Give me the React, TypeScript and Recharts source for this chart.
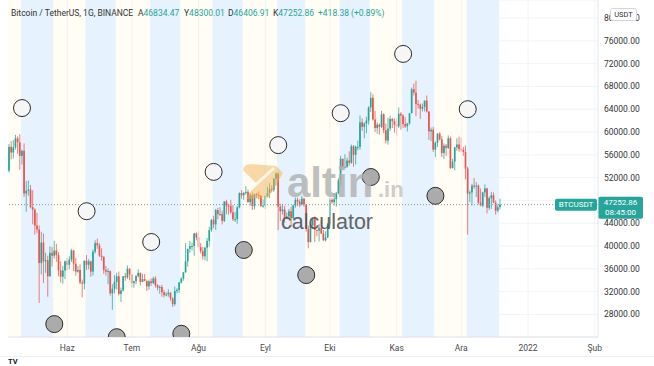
import React from "react";
import {
  ComposedChart,
  Bar,
  XAxis,
  YAxis,
  CartesianGrid,
  ReferenceArea,
  ReferenceDot,
  ReferenceLine,
} from "recharts";

// daily candles BTCUSDT, [open, high, low, close] in thousand USDT, starting 5 May 2021
const may = [
  [53.2, 57.9, 52.9, 57.4], [57.4, 58.4, 55.2, 56.4], [56.4, 58.6, 55.4, 57.3], [57.3, 59.5, 56.9, 58.9],
  [58.9, 59.2, 56.2, 58.2], [58.2, 59.6, 53.4, 55.8], [55.8, 56.9, 54.3, 56.7], [56.7, 58.0, 48.6, 49.2],
  [49.2, 51.4, 46.0, 49.7], [49.7, 51.5, 48.8, 49.9], [49.9, 50.7, 46.6, 46.8], [46.8, 49.8, 43.8, 46.4],
  [46.4, 46.6, 42.0, 43.6], [43.6, 45.8, 42.3, 42.9], [42.9, 43.6, 30.0, 37.0], [37.0, 42.5, 35.0, 40.6],
  [40.6, 42.2, 33.5, 37.3], [37.3, 38.8, 35.3, 37.5], [37.5, 38.3, 31.1, 34.7], [34.7, 39.9, 34.6, 38.8],
  [38.8, 39.8, 36.4, 38.3], [38.3, 40.9, 37.8, 39.2], [39.2, 40.4, 37.2, 38.4], [38.4, 38.9, 34.7, 35.7],
  [35.7, 37.3, 33.6, 34.6], [34.6, 36.5, 33.4, 35.7], [35.7, 37.5, 34.2, 37.3],
];
const jun = [
  [37.3, 37.9, 35.7, 36.7], [36.7, 38.2, 35.9, 37.6], [37.6, 39.5, 37.2, 39.2], [39.2, 39.3, 35.6, 36.9],
  [36.9, 37.9, 34.8, 35.5], [35.5, 36.5, 35.3, 35.8], [35.8, 36.8, 33.3, 33.6], [33.6, 34.1, 31.0, 33.4],
  [33.4, 37.5, 32.4, 37.4], [37.4, 38.4, 35.8, 36.7], [36.7, 37.7, 35.9, 37.3], [37.3, 37.4, 34.6, 35.5],
  [35.5, 39.4, 34.8, 39.0], [39.0, 41.0, 38.7, 40.5], [40.5, 41.3, 39.5, 40.1], [40.1, 40.5, 38.1, 38.3],
  [38.3, 39.6, 37.4, 38.1], [38.1, 38.2, 35.1, 35.8], [35.8, 36.5, 34.8, 35.5], [35.5, 36.1, 33.3, 35.6],
  [35.6, 35.7, 31.3, 31.7], [31.7, 33.3, 28.8, 32.5], [32.5, 34.9, 31.7, 33.7], [33.7, 35.3, 32.4, 34.7],
  [34.7, 35.5, 31.3, 31.6], [31.6, 32.7, 30.2, 32.2], [32.2, 34.7, 32.0, 34.7], [34.7, 35.3, 33.9, 34.5],
  [34.5, 36.6, 34.2, 36.0], [36.0, 36.1, 34.0, 35.0],
];
const jul = [
  [35.0, 35.0, 32.7, 33.5], [33.5, 33.9, 32.7, 33.8], [33.8, 34.9, 33.3, 34.7], [34.7, 35.9, 34.5, 35.3],
  [35.3, 35.3, 33.1, 33.7], [33.7, 35.1, 33.7, 34.2], [34.2, 35.1, 33.8, 33.9], [33.9, 33.9, 32.1, 32.9],
  [32.9, 34.1, 32.3, 33.8], [33.8, 34.3, 33.0, 33.5], [33.5, 34.6, 33.3, 34.3], [34.3, 34.7, 32.7, 33.1],
  [33.1, 33.3, 32.2, 32.7], [32.7, 33.1, 31.6, 32.8], [32.8, 33.2, 31.1, 31.9], [31.9, 32.3, 31.0, 31.4],
  [31.4, 31.9, 31.2, 31.5], [31.5, 32.4, 31.1, 31.8], [31.8, 31.9, 30.4, 30.8], [30.8, 31.0, 29.3, 29.8],
  [29.8, 32.9, 29.5, 32.1], [32.1, 32.6, 31.7, 32.3], [32.3, 33.7, 31.8, 33.6], [33.6, 34.5, 33.4, 34.3],
  [34.3, 35.4, 33.9, 35.4], [35.4, 40.5, 35.3, 37.3], [37.3, 39.5, 36.4, 39.5], [39.5, 40.9, 38.8, 40.0],
  [40.0, 40.6, 39.2, 40.0], [40.0, 42.3, 38.3, 42.2], [42.2, 42.4, 41.0, 41.5],
];
const aug = [
  [41.5, 42.6, 39.4, 39.8], [39.8, 40.5, 38.7, 39.1], [39.1, 39.8, 37.6, 38.2], [38.2, 39.9, 37.5, 39.7],
  [39.7, 41.4, 37.3, 40.9], [40.9, 43.4, 39.9, 42.8], [42.8, 44.7, 42.5, 44.6], [44.6, 45.3, 43.1, 43.8],
  [43.8, 46.5, 42.8, 46.3], [46.3, 46.7, 44.7, 45.6], [45.6, 46.8, 45.3, 45.6], [45.6, 46.2, 43.8, 44.4],
  [44.4, 47.9, 44.2, 47.8], [47.8, 48.1, 45.6, 47.1], [47.1, 47.4, 45.5, 47.0], [47.0, 48.1, 45.7, 45.9],
  [45.9, 47.2, 44.4, 44.7], [44.7, 46.0, 44.2, 44.7], [44.7, 47.0, 43.9, 46.8], [46.8, 49.4, 46.6, 49.3],
  [49.3, 49.8, 48.3, 48.9], [48.9, 49.5, 48.1, 49.3], [49.3, 50.5, 49.0, 49.5], [49.5, 49.9, 47.6, 47.7],
  [47.7, 49.3, 47.1, 48.9], [48.9, 49.4, 46.3, 47.0], [47.0, 49.2, 46.4, 49.1], [49.1, 49.3, 48.4, 48.9],
  [48.9, 49.6, 48.2, 48.8], [48.8, 48.9, 46.9, 47.0], [47.0, 48.2, 46.7, 47.1],
];
const sep = [
  [47.1, 48.9, 46.5, 48.8], [48.8, 50.4, 48.6, 49.3], [49.3, 51.0, 48.4, 50.0], [50.0, 50.6, 49.4, 49.9],
  [49.9, 51.9, 49.5, 51.8], [51.8, 52.9, 50.6, 52.7], [52.7, 52.9, 42.8, 46.9], [46.9, 47.4, 44.4, 46.1],
  [46.1, 47.4, 45.5, 46.4], [46.4, 47.0, 44.1, 44.8], [44.8, 45.9, 44.7, 45.2], [45.2, 46.5, 44.7, 46.1],
  [46.1, 46.9, 43.4, 44.9], [44.9, 47.3, 44.7, 47.1], [47.1, 48.5, 46.7, 48.1], [48.1, 48.5, 47.0, 47.8],
  [47.8, 48.2, 46.8, 47.3], [47.3, 48.8, 47.1, 48.3], [48.3, 48.4, 46.9, 47.3], [47.3, 47.3, 42.5, 43.0],
  [43.0, 43.6, 39.6, 40.7], [40.7, 44.0, 40.6, 43.6], [43.6, 45.0, 43.1, 44.9], [44.9, 45.2, 40.7, 42.8],
  [42.8, 42.9, 41.7, 42.7], [42.7, 43.9, 40.8, 43.2], [43.2, 44.4, 42.1, 42.2], [42.2, 42.8, 40.9, 41.0],
  [41.0, 42.6, 40.8, 41.5], [41.5, 44.1, 41.4, 43.8],
];
const oct = [
  [43.8, 48.5, 43.3, 48.1], [48.1, 48.4, 47.4, 47.7], [47.7, 49.3, 47.1, 48.2], [48.2, 49.5, 46.9, 49.2],
  [49.2, 51.9, 49.1, 51.5], [51.5, 55.8, 50.4, 55.3], [55.3, 55.3, 53.4, 53.8], [53.8, 56.1, 53.6, 53.9],
  [53.9, 55.5, 53.7, 55.0], [55.0, 56.6, 54.1, 54.6], [54.6, 57.8, 54.4, 57.5], [57.5, 57.7, 53.9, 56.0],
  [56.0, 57.6, 54.3, 57.4], [57.4, 58.5, 56.8, 57.4], [57.4, 62.9, 56.9, 61.7], [61.7, 62.4, 60.2, 60.9],
  [60.9, 61.7, 58.9, 61.5], [61.5, 62.7, 59.8, 62.0], [62.0, 64.5, 61.3, 64.3], [64.3, 67.0, 63.5, 66.0],
  [66.0, 66.6, 62.0, 62.2], [62.2, 63.7, 60.0, 60.7], [60.7, 61.7, 59.7, 61.3], [61.3, 61.5, 59.5, 60.9],
  [60.9, 63.7, 60.7, 63.1], [63.1, 63.3, 59.8, 60.3], [60.3, 61.5, 58.0, 58.5], [58.5, 62.5, 57.8, 60.6],
  [60.6, 62.9, 60.2, 62.3], [62.3, 62.4, 60.7, 61.9], [61.9, 62.4, 59.9, 61.3],
];
const nov = [
  [61.3, 62.4, 59.4, 61.0], [61.0, 64.3, 60.7, 63.2], [63.2, 63.5, 60.4, 62.9], [62.9, 63.1, 60.7, 61.4],
  [61.4, 62.6, 60.7, 61.0], [61.0, 61.6, 60.1, 61.5], [61.5, 63.3, 61.3, 63.3], [63.3, 67.8, 63.3, 67.5],
  [67.5, 68.5, 66.4, 66.9], [66.9, 69.0, 62.8, 64.9], [64.9, 65.6, 64.1, 64.8], [64.8, 65.0, 62.3, 64.1],
  [64.1, 65.0, 63.6, 64.4], [64.4, 65.5, 63.6, 65.5], [65.5, 66.4, 63.4, 63.6], [63.6, 63.6, 58.6, 60.1],
  [60.1, 60.8, 58.4, 60.4], [60.4, 60.9, 56.5, 56.9], [56.9, 58.4, 55.6, 58.1], [58.1, 59.8, 57.4, 59.7],
  [59.7, 60.0, 58.5, 58.7], [58.7, 59.3, 55.6, 56.3], [56.3, 58.0, 55.3, 57.6], [57.6, 57.9, 55.8, 57.2],
  [57.2, 59.4, 57.0, 58.9], [58.9, 59.2, 53.5, 53.7], [53.7, 55.3, 53.6, 54.8], [54.8, 57.4, 53.3, 57.3],
  [57.3, 58.9, 56.7, 57.8], [57.8, 59.2, 56.5, 57.0],
];
const dec = [
  [57.0, 59.0, 56.5, 56.9], [56.9, 57.4, 55.8, 56.5], [56.5, 57.6, 51.7, 53.6], [53.6, 53.9, 42.0, 49.2],
  [49.2, 49.7, 47.7, 49.4], [49.4, 50.9, 47.1, 50.6], [50.6, 51.9, 50.0, 50.5], [50.5, 51.2, 48.6, 50.6],
  [50.6, 50.8, 47.3, 47.6], [47.6, 50.1, 47.0, 47.1], [47.1, 49.5, 46.8, 49.4], [49.4, 50.8, 48.6, 50.1],
  [50.1, 50.2, 45.7, 46.7], [46.7, 48.7, 46.3, 48.4], [48.4, 49.5, 46.5, 48.9], [48.9, 49.4, 47.5, 47.6],
  [47.6, 48.0, 45.5, 46.2], [46.2, 47.3, 45.9, 46.8], [46.83447, 48.30001, 46.40691, 47.25286],
];

// bar index of the first day of each month on the time axis (0 = 5 May 2021)
const monthTickIdx = [27, 57, 88, 119, 149, 180, 210, 241, 272];
const monthTickLabels = ["Haz", "Tem", "Ağu", "Eyl", "Eki", "Kas", "Ara", "2022", "Şub"];
const totalDays = 274;

// moon phases indicator: bar index and marker price
const newMoonIdx = [6, 36, 66, 95, 125, 154, 183, 213];
const newMoonPrice = [64.2, 46.1, 40.7, 53.0, 57.7, 63.3, 73.7, 64.0];
const fullMoonIdx = [21, 50, 80, 109, 138, 168, 198, 228];
const fullMoonPrice = [26.3, 24.0, 24.6, 39.3, 34.9, 52.1, 48.8];

const priceTicks = [28, 32, 36, 40, 44, 48, 52, 56, 60, 64, 68, 72, 76, 80];
const lastPrice = 47.25286;

const UP = "#26a69a";
const DOWN = "#ef5350";
const FONT = "Roboto, sans-serif";

const candles = [...may, ...jun, ...jul, ...aug, ...sep, ...oct, ...nov, ...dec];
const data = Array.from({ length: totalDays }, (_, i) => {
  const k = candles[i];
  return k ? { i, o: k[0], h: k[1], l: k[2], c: k[3] } : { i };
});

const Candle = (props: any) => {
  const { x, y, width, height, payload } = props;
  if (!payload || payload.o == null) return <g />;
  const { o, h, l, c } = payload;
  const color = c >= o ? UP : DOWN;
  const k = height / (h - l || 1);
  const yo = y + (h - o) * k;
  const yc = y + (h - c) * k;
  const cx = x + width / 2;
  const bw = 1.7;
  return (
    <g>
      <line x1={cx} x2={cx} y1={y} y2={y + height} stroke={color} strokeWidth={0.75} />
      <rect
        x={cx - bw / 2}
        y={Math.min(yo, yc)}
        width={bw}
        height={Math.max(1, Math.abs(yo - yc))}
        fill={color}
      />
    </g>
  );
};

const TimeTick = (props: any) => {
  const { x, y, payload } = props;
  const n = monthTickIdx.indexOf(payload.value);
  if (n < 0) return <g />;
  return (
    <text x={x} y={y + 3} textAnchor="middle" dominantBaseline="central" fontSize={8.5} fill="#4a4a4a" fontFamily={FONT}>
      {monthTickLabels[n]}
    </text>
  );
};

const PriceTick = (props: any) => {
  const { x, y, payload } = props;
  // the last-price label sits on top of the nearest tick
  if (Math.abs(payload.value - lastPrice) < 1.5) return <g />;
  return (
    <text x={x - 2} y={y} textAnchor="start" dominantBaseline="central" fontSize={8.5} fill="#333" fontFamily={FONT}>
      {(payload.value * 1000).toFixed(2)}
    </text>
  );
};

const PriceLabel = (props: any) => {
  const { viewBox } = props;
  const right = viewBox.x + viewBox.width;
  const y = viewBox.y;
  return (
    <g fontFamily={FONT} fontSize={8}>
      <rect x={right - 43} y={y - 6} width={42} height={12} rx={2} fill={UP} />
      <text x={right - 22} y={y} fill="#fff" textAnchor="middle" dominantBaseline="central">BTCUSDT</text>
      <rect x={right} y={y - 8} width={45} height={22} rx={2} fill={UP} />
      <text x={right + 22.5} y={y - 2} fill="#fff" textAnchor="middle" dominantBaseline="central">47252.86</text>
      <text x={right + 22.5} y={y + 8} fill="#fff" textAnchor="middle" dominantBaseline="central">08:45:00</text>
    </g>
  );
};

const blueBands = newMoonIdx.map((s, k) => [s, fullMoonIdx[k] - 1]);
const creamBands = [[0, newMoonIdx[0] - 1], ...fullMoonIdx.slice(0, -1).map((s, k) => [s, newMoonIdx[k + 1] - 1])];

export default function App() {
  return (
    <div style={{ position: "absolute", left: 0, top: 0, width: 654, height: 366, background: "#fff", overflow: "hidden" }}>
      <ComposedChart
        width={654}
        height={356}
        data={data}
        margin={{ top: 0, right: 0, bottom: 0, left: 8 }}
        barCategoryGap={0}
        barGap={0}
      >
        {creamBands.map(([a, b]) => (
          <ReferenceArea key={"c" + a} x1={a} x2={b} fill="#fffdf4" fillOpacity={1} stroke="none" />
        ))}
        {blueBands.map(([a, b]) => (
          <ReferenceArea key={"b" + a} x1={a} x2={b} fill="#e6f2fd" fillOpacity={1} stroke="none" />
        ))}
        <CartesianGrid vertical={false} stroke="#eef0f4" strokeOpacity={0.8} />
        {monthTickIdx.map((m) => (
          <ReferenceLine key={"m" + m} x={m} stroke="#eef0f4" strokeOpacity={0.8} />
        ))}
        <XAxis
          dataKey="i"
          type="category"
          interval={0}
          height={19}
          axisLine={{ stroke: "#e0e3eb" }}
          tickLine={false}
          tick={<TimeTick />}
        />
        <YAxis
          orientation="right"
          width={56}
          type="number"
          domain={[24.035, 83.158]}
          allowDataOverflow
          ticks={priceTicks}
          interval={0}
          axisLine={{ stroke: "#e0e3eb" }}
          tickLine={false}
          tick={<PriceTick />}
        />
        <ReferenceLine y={lastPrice} stroke="#8a9a98" strokeDasharray="1 2" label={<PriceLabel />} />
        <Bar
          dataKey={(d: any) => (d.h != null ? [d.l, d.h] : null)}
          shape={<Candle />}
          isAnimationActive={false}
        />
        {newMoonIdx.map((m, k) => (
          <ReferenceDot key={"n" + m} x={m} y={newMoonPrice[k]} r={8.5} fill="#f6f6f6" stroke="#2a2a2a" strokeWidth={1} ifOverflow="hidden" />
        ))}
        {fullMoonPrice.map((p, k) => (
          <ReferenceDot key={"f" + k} x={fullMoonIdx[k]} y={p} r={8.5} fill="#ababab" stroke="#2a2a2a" strokeWidth={1} ifOverflow="hidden" />
        ))}
      </ComposedChart>

      <svg width={654} height={366} style={{ position: "absolute", left: 0, top: 0, pointerEvents: "none" }}>
        <g fontFamily={FONT} fontSize={8.5}>
          <text x={11} y={16} fill="#333">Bitcoin / TetherUS, 1G, BINANCE</text>
          <text x={138} y={16} fill="#333">A<tspan fill={UP}>46834.47</tspan></text>
          <text x={184} y={16} fill="#333">Y<tspan fill={UP}>48300.01</tspan></text>
          <text x={228} y={16} fill="#333">D<tspan fill={UP}>46406.91</tspan></text>
          <text x={273} y={16} fill="#333">K<tspan fill={UP}>47252.86</tspan></text>
          <text x={318} y={16} fill={UP}>+418.38 (+0.89%)</text>
        </g>
        <rect x={610.5} y={8.5} width={26} height={12} rx={2} fill="#fff" stroke="#d1d4dc" />
        <text x={623.5} y={14.5} fontFamily={FONT} fontSize={7.5} fill="#333" textAnchor="middle" dominantBaseline="central">USDT</text>

        <g opacity={0.8}>
          <path d="M243 170 Q244 164 251 164 L276 166 L283 173 L268 198 L246 199 L256 183 Z" fill="#f2b24e" opacity={0.6} />
          <path d="M250 190 L274 168" stroke="#fff" strokeWidth={3} opacity={0.8} />
          <text x={287} y={197} fontFamily="'Liberation Sans', Arial, sans-serif" fontWeight="bold" fontSize={42} fill="#b0b0b0">altin</text>
          <text x={378} y={197} fontFamily="'Liberation Sans', Arial, sans-serif" fontWeight="bold" fontSize={22} fill="#c2c2c2">.in</text>
        </g>
        <text x={281} y={229} fontFamily="'Liberation Sans', Arial, sans-serif" fontSize={21.5} fill="#555" opacity={0.9}>calculator</text>

        <line x1={0} x2={654} y1={356.5} y2={356.5} stroke="#eceef2" />
        <text x={8} y={364} fontFamily={FONT} fontSize={7.5} fontWeight="bold" fill="#131722">TV</text>
      </svg>
    </div>
  );
}
